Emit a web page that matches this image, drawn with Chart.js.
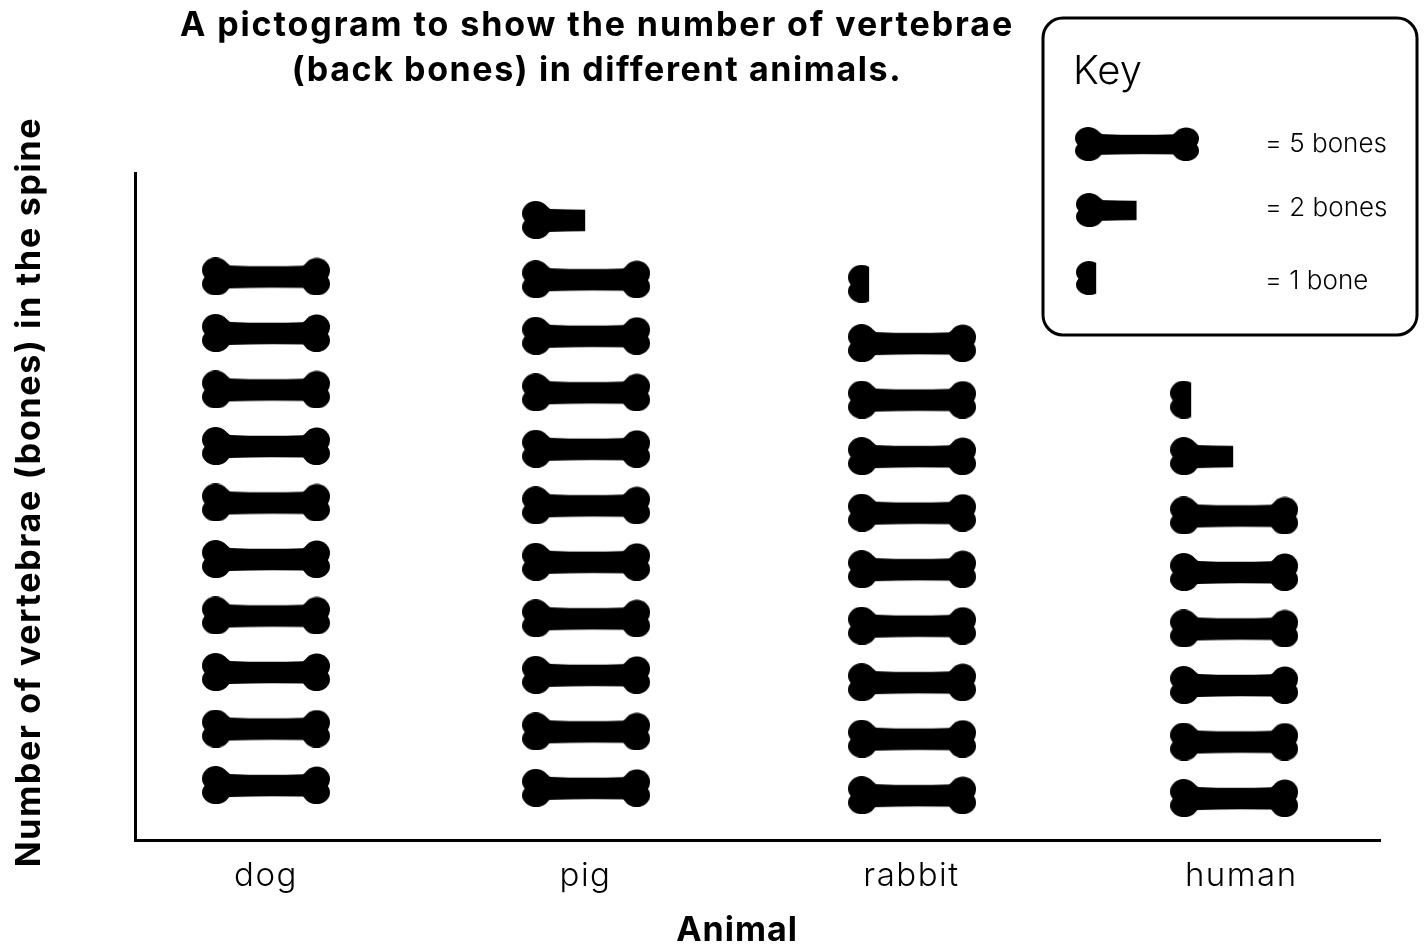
<!DOCTYPE html>
<html>
<head>
<meta charset="utf-8">
<title>Vertebrae pictogram</title>
<script src="https://cdn.jsdelivr.net/npm/chart.js@4"></script>
<style>
    body { margin: 0; background: #fff; }
    canvas { display: block; }
</style>
</head>
<body>
<canvas id="myChart" width="1424" height="949"></canvas>
<script>
const animals = ['dog', 'pig', 'rabbit', 'human'];
// number of vertebrae
const vertebrae = [50, 52, 46, 33];
const keyLabels = ['= 5 bones', '= 2 bones', '= 1 bone'];
const titleLines = ['A pictogram to show the number of vertebrae', '(back bones) in different animals.'];
const xAxisName = 'Animal';
const yAxisName = 'Number of vertebrae (bones) in the spine';

const fontName = 'Inter, Lato, sans-serif';

// the columns and rows in the original are not perfectly even
const columnDrift = [0, -0.008, 0.002, 0];
const rowDrift = [0, -0.05, -0.18, -0.23];
const tickPlaces = [0, 0.99, 2, 3.022];

// bone icon, cut off at clipWidth for the partial ones
function makeBone(clipWidth) {
    const icon = document.createElement('canvas');
    icon.width = 128;
    icon.height = 38;
    const c = icon.getContext('2d');
    c.beginPath();
    c.rect(0, 0, clipWidth, 38);
    c.clip();
    c.fillStyle = '#000';
    // the four lobes
    [[13.5, 12.5, 13.5, 12.5], [14, 26.5, 14, 11.5], [114.7, 13, 13.3, 12.5], [114.4, 26.5, 13.6, 11.5]].forEach(l => {
        c.beginPath();
        c.ellipse(l[0], l[1], l[2], l[3], 0, 0, Math.PI * 2);
        c.fill();
    });
    // the shaft
    c.beginPath();
    c.moveTo(14, 4);
    c.lineTo(22, 3);
    c.lineTo(28, 8);
    c.quadraticCurveTo(64, 9.6, 101, 8.2);
    c.lineTo(108, 3);
    c.lineTo(115, 4);
    c.lineTo(115, 34);
    c.lineTo(108, 35.5);
    c.lineTo(101, 30.6);
    c.quadraticCurveTo(64, 29.6, 27, 31);
    c.lineTo(20, 36);
    c.lineTo(14, 34);
    c.closePath();
    c.fill();
    return icon;
}

const boneFive = makeBone(128);
const boneTwo = makeBone(63);
const boneOne = makeBone(21);

// split each total into rows of icons
const fivePoints = [];
const twoPoints = [];
const onePoints = [];
vertebrae.forEach((total, i) => {
    const x = i + columnDrift[i];
    const rows = Math.floor(total / 5);
    let left = total % 5;
    let row = rowDrift[i];
    for (let r = 0; r < rows; r++) {
        fivePoints.push({x: x, y: row});
        row += 1;
    }
    if (left >= 2) {
        twoPoints.push({x: x, y: row + 0.05});
        left -= 2;
        row += 1;
    }
    if (left >= 1) {
        onePoints.push({x: x, y: row + 0.05});
    }
});

function drawText(c, text, x, y, font, spacing) {
    c.font = font;
    c.letterSpacing = spacing;
    c.fillText(text, x, y);
}

// title, axis names and the key do not sit where Chart.js would centre them
const pictogramText = {
    id: 'pictogramText',
    beforeDraw(chart) {
        // tick labels need a little more room between letters
        chart.ctx.letterSpacing = '1.5px';
    },
    afterDraw(chart) {
        const c = chart.ctx;
        c.save();
        c.fillStyle = '#000';
        c.textBaseline = 'alphabetic';
        c.textAlign = 'center';
        drawText(c, titleLines[0], 597, 36, 'bold 34px ' + fontName, '1.9px');
        drawText(c, titleLines[1], 597, 81, 'bold 34px ' + fontName, '1.6px');
        drawText(c, xAxisName, 737, 941, 'bold 34px ' + fontName, '1px');

        c.save();
        c.translate(40, 492);
        c.rotate(-Math.PI / 2);
        drawText(c, yAxisName, 0, 0, 'bold 34px ' + fontName, '1.7px');
        c.restore();

        // key
        c.strokeStyle = '#000';
        c.lineWidth = 3;
        c.beginPath();
        c.roundRect(1043, 18, 374, 317, 20);
        c.stroke();

        c.textAlign = 'left';
        drawText(c, 'Key', 1073, 84, '300 40px ' + fontName, '0px');
        c.drawImage(boneFive, 1075, 127, 124, 34);
        c.drawImage(boneTwo, 1076, 193, 123, 34);
        c.drawImage(boneOne, 1076, 261, 123, 34);
        drawText(c, keyLabels[0], 1265, 152, '300 26px ' + fontName, '0px');
        drawText(c, keyLabels[1], 1265, 216, '300 26px ' + fontName, '0px');
        drawText(c, keyLabels[2], 1265, 289, '300 26px ' + fontName, '0px');
        c.restore();
    }
};

const ctx = document.getElementById('myChart');
const chartGraphic = new Chart(ctx, {
    type: 'scatter',
    data: {
        datasets: [
            {label: '5 bones', data: fivePoints, pointStyle: boneFive},
            {label: '2 bones', data: twoPoints, pointStyle: boneTwo},
            {label: '1 bone', data: onePoints, pointStyle: boneOne},
        ]
    },
    options: {
        responsive: false,
        animation: false,
        layout: {
            padding: {left: 135, right: 44, top: 173, bottom: 0}
        },
        plugins: {
            legend: {display: false},
            tooltip: {enabled: false}
        },
        scales: {
            x: {
                type: 'linear',
                min: -0.406,
                max: 3.452,
                grid: {display: false},
                border: {color: '#000', width: 3},
                afterBuildTicks: (scale) => {
                    scale.ticks = tickPlaces.map(v => ({value: v}));
                },
                afterFit: (scale) => {
                    scale.height = 109;
                },
                ticks: {
                    autoSkip: false,
                    maxRotation: 0,
                    color: '#000',
                    padding: 8,
                    font: {family: fontName, size: 33, weight: 300},
                    callback: (value, index) => animals[index]
                }
            },
            y: {
                type: 'linear',
                min: -0.973,
                max: 10.83,
                grid: {display: false},
                border: {color: '#000', width: 3},
                ticks: {display: false},
                afterFit: (scale) => {
                    scale.width = 0;
                }
            }
        }
    },
    plugins: [pictogramText]
});
</script>
</body>
</html>
